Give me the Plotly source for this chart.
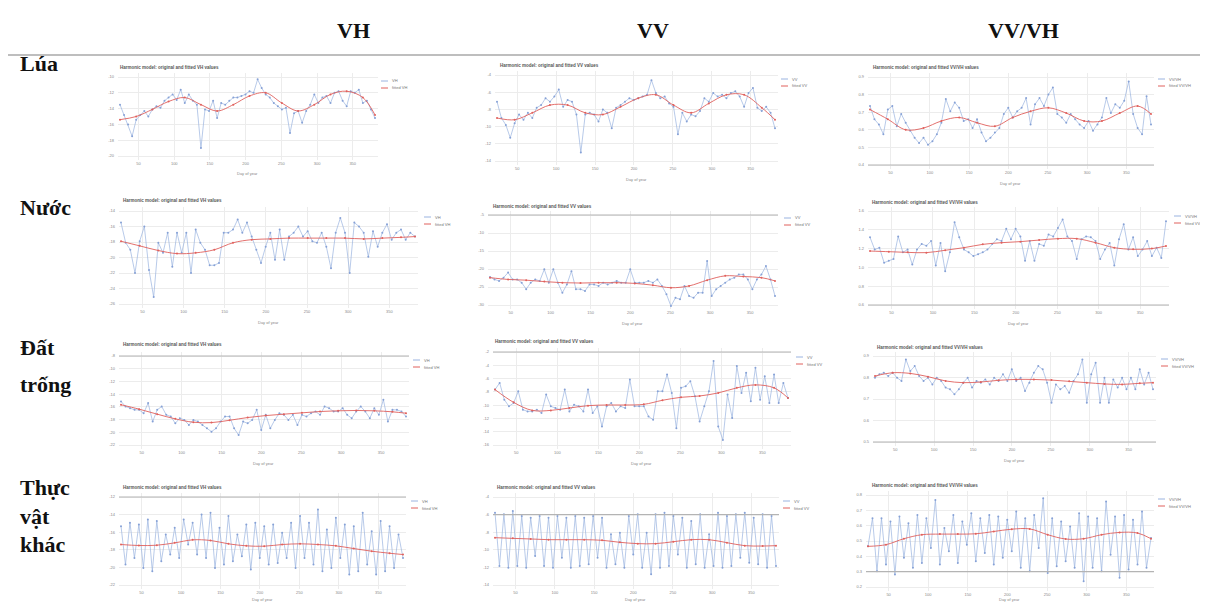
import plotly.graph_objects as go

W, H = 1208, 602

# acquisition days (time axis) and positions of the fitted-curve samples
days = [24 + 5.67 * i for i in range(64)]
fit_idx = list(range(0, 64, 4)) + [63]
fit_days = [days[i] for i in fit_idx]
x_ticks = [50, 100, 150, 200, 250, 300, 350]

col_headers = ["VH", "VV", "VV/VH"]
row_labels = [["Lúa"], ["Nước"], ["Đất", "trống"], ["Thực", "vật", "khác"]]

# ---------------- Lúa ----------------
lua_vh = [-13.5,-14.8,-16.0,-17.5,-15.4,-14.8,-14.3,-15.0,-14.1,-13.7,
          -13.9,-13.0,-12.6,-12.2,-12.9,-11.6,-13.3,-12.2,-13.0,-13.5,
          -19.0,-14.1,-14.3,-13.0,-15.2,-13.3,-13.5,-13.0,-12.6,-12.6,
          -12.4,-12.2,-11.8,-12.0,-10.3,-11.4,-12.2,-12.6,-13.3,-13.7,
          -14.1,-13.9,-17.1,-14.6,-14.3,-15.8,-14.3,-13.5,-12.2,-13.3,
          -12.6,-12.4,-13.3,-12.0,-11.8,-13.0,-13.7,-11.8,-12.0,-11.6,
          -13.3,-13.0,-14.1,-15.2]
lua_vh_fit = [-15.4,-15.0,-14.1,-13.1,-12.6,-13.5,-14.3,-13.5,-12.4,-12.0,-13.3,-14.3,-13.5,-12.2,-11.8,-12.6,-14.8]
lua_vh_ticks = [-10, -12, -14, -16, -18, -20]

lua_vv = [-7.1,-9.0,-9.8,-11.3,-9.6,-8.6,-9.2,-8.4,-9.0,-7.8,
          -7.5,-6.7,-7.1,-6.5,-5.7,-7.7,-6.9,-7.1,-8.6,-13.0,
          -8.6,-8.4,-8.6,-9.4,-8.0,-8.4,-10.2,-7.8,-7.5,-7.1,
          -6.7,-6.9,-6.7,-6.5,-6.3,-4.6,-6.1,-6.7,-6.5,-7.3,
          -7.7,-10.9,-8.4,-9.4,-8.6,-8.8,-8.2,-6.7,-7.1,-6.1,
          -6.5,-6.3,-6.7,-6.1,-5.9,-6.5,-7.7,-6.1,-5.5,-7.8,
          -8.2,-7.7,-8.4,-10.2]
lua_vv_fit = [-9.0,-9.2,-8.4,-7.5,-7.5,-8.4,-8.6,-7.7,-6.7,-6.3,-7.5,-8.4,-7.3,-6.3,-6.3,-7.8,-9.2]
lua_vv_ticks = [-4, -6, -8, -10, -12, -14]

lua_ratio = [0.735,0.66,0.63,0.575,0.715,0.735,0.62,0.69,0.64,0.595,
             0.555,0.525,0.555,0.515,0.535,0.575,0.64,0.775,0.705,0.755,
             0.725,0.65,0.66,0.61,0.66,0.585,0.535,0.555,0.585,0.61,
             0.69,0.725,0.67,0.705,0.725,0.78,0.63,0.745,0.78,0.735,
             0.80,0.84,0.69,0.67,0.64,0.69,0.66,0.63,0.61,0.65,
             0.595,0.63,0.67,0.78,0.695,0.745,0.725,0.765,0.875,0.69,
             0.61,0.575,0.79,0.63]
lua_ratio_fit = [0.715,0.66,0.60,0.61,0.65,0.67,0.64,0.62,0.67,0.705,0.725,0.695,0.65,0.65,0.695,0.735,0.69]
lua_ratio_ticks = [0.9, 0.8, 0.7, 0.6, 0.5, 0.4]

# ---------------- Nước ----------------
nuoc_vh = [-15.5,-18.1,-19.0,-22.0,-17.9,-16.0,-21.6,-25.1,-18.1,-19.4,
           -16.8,-21.2,-16.8,-19.4,-16.8,-22.0,-16.4,-18.1,-19.0,-21.0,
           -21.0,-20.7,-16.8,-16.8,-16.4,-15.1,-16.8,-15.5,-17.3,-19.0,
           -20.7,-18.6,-16.8,-20.3,-16.4,-20.3,-17.3,-16.8,-16.0,-17.3,
           -16.6,-17.9,-18.1,-16.8,-18.6,-21.4,-16.8,-14.9,-16.8,-22.0,
           -15.5,-16.0,-16.8,-19.9,-16.6,-18.6,-16.8,-15.7,-17.7,-16.8,
           -16.4,-17.7,-16.8,-17.3]
nuoc_vh_fit = [-17.9,-18.5,-19.1,-19.5,-19.4,-19.0,-18.1,-17.7,-17.6,-17.5,-17.5,-17.5,-17.5,-17.6,-17.5,-17.4,-17.3]
nuoc_vh_ticks = [-14, -16, -18, -20, -22, -24, -26]

nuoc_vv = [-22.2,-22.9,-23.3,-22.4,-21.0,-22.9,-22.9,-23.8,-25.6,-23.8,
           -22.9,-23.3,-20.1,-23.8,-20.1,-23.8,-26.6,-24.3,-20.6,-25.6,
           -25.6,-26.1,-24.3,-24.3,-24.7,-23.8,-24.3,-23.8,-23.3,-23.8,
           -23.8,-20.1,-23.8,-23.8,-23.8,-23.3,-23.8,-22.9,-24.7,-27.0,
           -30.3,-28.0,-28.4,-24.7,-27.5,-28.0,-26.6,-26.6,-17.8,-27.5,
           -25.6,-24.7,-23.8,-22.9,-22.4,-21.5,-21.5,-22.9,-25.6,-22.9,
           -21.5,-19.2,-22.9,-27.5]
nuoc_vv_fit = [-22.4,-22.9,-23.1,-23.5,-23.8,-23.9,-23.8,-23.8,-24.0,-24.5,-25.2,-24.7,-23.1,-21.9,-22.1,-22.4,-23.3]
nuoc_vv_ticks = [-5, -10, -15, -20, -25, -30]

nuoc_ratio = [1.32,1.19,1.21,1.05,1.07,1.09,1.33,1.16,1.19,1.03,
              1.19,1.25,1.23,1.28,1.02,1.26,0.96,1.16,1.48,1.32,
              1.19,1.16,1.12,1.14,1.16,1.19,1.25,1.30,1.28,1.41,
              1.30,1.41,1.33,1.07,1.28,1.07,1.25,1.23,1.35,1.33,
              1.42,1.51,1.33,1.28,1.09,1.30,1.33,1.32,1.28,1.09,
              1.19,1.26,1.02,1.30,1.46,1.19,1.32,1.12,1.19,1.28,
              1.12,1.21,1.10,1.49]
nuoc_ratio_fit = [1.174,1.167,1.16,1.157,1.182,1.21,1.245,1.263,1.274,1.291,1.306,1.306,1.263,1.21,1.192,1.2,1.228]
nuoc_ratio_ticks = [1.6, 1.4, 1.2, 1.0, 0.8, 0.6]

# ---------------- Đất trống ----------------
dat_vh = [-15.14,-15.94,-16.2,-16.47,-16.47,-17.0,-15.41,-18.32,-16.47,-15.94,
          -17.26,-17.52,-18.58,-17.79,-18.05,-18.85,-18.05,-18.32,-18.85,-19.38,
          -19.9,-19.38,-18.32,-17.52,-17.52,-19.38,-20.43,-18.32,-18.58,-18.05,
          -16.47,-19.64,-17.26,-19.38,-18.05,-17.0,-17.26,-18.05,-17.26,-18.85,
          -17.26,-17.52,-17.0,-16.73,-17.26,-15.94,-16.2,-16.73,-16.73,-16.2,
          -17.26,-17.79,-16.73,-15.94,-16.73,-17.79,-16.2,-17.26,-14.88,-18.32,
          -16.47,-16.47,-16.73,-17.52]
dat_vh_fit = [-15.67,-16.36,-17.15,-17.89,-18.42,-18.48,-18.11,-17.68,-17.37,-17.15,-16.94,-16.73,-16.62,-16.57,-16.62,-16.78,-17.0]
dat_vh_ticks = [-8, -10, -12, -14, -16, -18, -20, -22]

dat_vv = [-7.66,-6.65,-9.17,-10.18,-9.68,-7.91,-10.69,-10.94,-10.94,-10.69,
          -11.19,-8.41,-10.18,-10.43,-10.69,-7.66,-10.94,-9.93,-10.18,-10.94,
          -7.66,-11.19,-10.18,-13.21,-10.18,-9.68,-10.94,-10.18,-10.43,-6.14,
          -10.18,-10.18,-10.18,-11.7,-12.2,-7.91,-7.91,-5.38,-8.16,-13.46,
          -7.4,-7.15,-6.39,-8.67,-12.45,-10.18,-7.91,-3.36,-13.21,-15.23,
          -8.41,-11.95,-4.12,-8.16,-5.13,-9.42,-4.37,-9.17,-5.64,-9.68,
          -5.38,-9.68,-6.65,-8.92]
dat_vv_fit = [-7.66,-9.58,-10.79,-10.79,-10.43,-10.08,-9.98,-9.98,-9.88,-9.27,-8.82,-8.62,-8.16,-7.4,-6.95,-7.4,-8.92]
dat_vv_ticks = [-2, -4, -6, -8, -10, -12, -14, -16]

dat_ratio = [0.799,0.815,0.822,0.807,0.822,0.799,0.784,0.884,0.83,0.853,
             0.807,0.784,0.799,0.768,0.799,0.784,0.753,0.745,0.722,0.745,
             0.776,0.799,0.753,0.784,0.776,0.791,0.768,0.799,0.784,0.815,
             0.784,0.838,0.784,0.799,0.737,0.776,0.822,0.853,0.838,0.776,
             0.683,0.768,0.745,0.76,0.729,0.784,0.815,0.884,0.683,0.815,
             0.869,0.683,0.799,0.683,0.791,0.753,0.799,0.745,0.799,0.745,
             0.838,0.768,0.822,0.745]
dat_ratio_fit = [0.807,0.822,0.819,0.804,0.784,0.776,0.779,0.787,0.791,0.791,0.788,0.782,0.776,0.77,0.768,0.773,0.776]
dat_ratio_ticks = [0.9, 0.8, 0.7, 0.6, 0.5]

# ---------------- Thực vật khác ----------------
tv_vh = [-15.31,-19.68,-14.93,-18.92,-15.12,-20.06,-14.55,-20.44,-14.74,-19.3,
         -16.26,-18.54,-15.5,-18.92,-14.55,-17.4,-14.93,-18.54,-13.98,-18.92,
         -13.79,-20.06,-15.5,-19.68,-14.17,-19.3,-16.26,-18.73,-15.12,-20.25,
         -14.93,-18.92,-15.31,-19.68,-15.12,-19.49,-16.07,-18.92,-14.93,-20.06,
         -14.17,-18.92,-14.93,-19.68,-13.41,-20.44,-15.69,-20.06,-14.36,-18.92,
         -15.12,-20.82,-15.31,-20.44,-13.79,-19.68,-15.88,-20.82,-14.74,-20.44,
         -15.31,-20.06,-16.26,-18.92]
tv_vh_fit = [-17.4,-17.51,-17.48,-17.21,-16.87,-16.94,-17.32,-17.55,-17.59,-17.4,-17.32,-17.4,-17.55,-17.86,-18.16,-18.39,-18.54]
tv_vh_ticks = [-12, -14, -16, -18, -20, -22]

tv_vv = [-5.78,-11.84,-5.97,-12.03,-5.59,-11.84,-6.16,-12.03,-6.35,-10.7,
         -6.16,-11.84,-6.35,-12.03,-6.16,-10.89,-6.35,-12.03,-6.16,-11.84,
         -6.35,-11.65,-6.16,-10.89,-6.35,-12.03,-8.24,-11.65,-8.05,-12.03,
         -6.16,-10.52,-5.97,-12.03,-8.05,-12.79,-5.97,-12.03,-5.78,-11.84,
         -6.16,-10.52,-6.35,-12.03,-6.73,-11.65,-5.97,-12.03,-8.24,-11.84,
         -5.78,-12.03,-6.16,-11.84,-5.97,-10.89,-5.78,-11.46,-6.35,-11.65,
         -5.97,-12.03,-6.16,-11.84]
tv_vv_fit = [-8.62,-8.7,-8.77,-8.85,-8.85,-8.85,-8.92,-9.15,-9.3,-9.3,-9.08,-8.85,-8.85,-9.19,-9.53,-9.57,-9.53]
tv_vv_ticks = [-4, -6, -8, -10, -12, -14]

tv_ratio = [0.465,0.649,0.303,0.649,0.346,0.627,0.282,0.66,0.39,0.616,
            0.325,0.67,0.357,0.649,0.454,0.768,0.346,0.584,0.433,0.67,
            0.357,0.627,0.476,0.681,0.368,0.649,0.422,0.67,0.346,0.66,
            0.39,0.638,0.433,0.692,0.325,0.649,0.303,0.67,0.454,0.778,
            0.292,0.649,0.336,0.627,0.368,0.595,0.325,0.681,0.238,0.66,
            0.325,0.649,0.303,0.757,0.411,0.66,0.26,0.67,0.314,0.638,
            0.346,0.692,0.325,0.519]
tv_ratio_fit = [0.465,0.476,0.515,0.541,0.545,0.545,0.547,0.562,0.577,0.579,0.541,0.513,0.515,0.541,0.556,0.552,0.515]
tv_ratio_ticks = [0.8, 0.7, 0.6, 0.5, 0.4, 0.3, 0.2]

# panel configuration: data, band name, y ticks, pixel box (plot-left, data-start, data-end,
# plot-right, top-tick, bottom-tick), title & legend anchors, emphasised reference tick
panels = [
    dict(o=lua_vh, f=lua_vh_fit, band="VH", yt=lua_vh_ticks, box=(110, 112, 367, 370, 69, 148), t=(110, 59), lg=(373, 70), ref=None),
    dict(o=lua_vv, f=lua_vv_fit, band="VV", yt=lua_vv_ticks, box=(487, 489, 767, 770, 67, 153), t=(490, 57), lg=(773, 68), ref=None),
    dict(o=lua_ratio, f=lua_ratio_fit, band="VV/VH", yt=lua_ratio_ticks, box=(860, 862, 1143, 1146, 69, 157), t=(863, 59), lg=(1150, 68), ref=0.4),
    dict(o=nuoc_vh, f=nuoc_vh_fit, band="VH", yt=nuoc_vh_ticks, box=(111, 113, 407, 410, 203, 296), t=(113, 193), lg=(416, 206), ref=None),
    dict(o=nuoc_vv, f=nuoc_vv_fit, band="VV", yt=nuoc_vv_ticks, box=(480, 482, 767, 770, 207, 297), t=(483, 198), lg=(776, 207), ref=-5),
    dict(o=nuoc_ratio, f=nuoc_ratio_fit, band="VV/VH", yt=nuoc_ratio_ticks, box=(860, 862, 1158, 1161, 203, 297), t=(862, 194), lg=(1166, 205), ref=0.6),
    dict(o=dat_vh, f=dat_vh_fit, band="VH", yt=dat_vh_ticks, box=(111, 113, 398, 401, 348, 437), t=(113, 337), lg=(405, 349), ref=-8),
    dict(o=dat_vv, f=dat_vv_fit, band="VV", yt=dat_vv_ticks, box=(485, 487, 780, 783, 344, 437), t=(485, 333), lg=(788, 346), ref=-2),
    dict(o=dat_ratio, f=dat_ratio_fit, band="VV/VH", yt=dat_ratio_ticks, box=(865, 867, 1145, 1148, 348, 434), t=(867, 339), lg=(1153, 348), ref=0.5),
    dict(o=tv_vh, f=tv_vh_fit, band="VH", yt=tv_vh_ticks, box=(111, 113, 395, 398, 489, 577), t=(113, 479), lg=(403, 490), ref=-12),
    dict(o=tv_vv, f=tv_vv_fit, band="VV", yt=tv_vv_ticks, box=(485, 487, 768, 771, 489, 577), t=(487, 479), lg=(775, 490), ref=-6),
    dict(o=tv_ratio, f=tv_ratio_fit, band="VV/VH", yt=tv_ratio_ticks, box=(858, 860, 1143, 1146, 487, 579), t=(862, 477), lg=(1150, 488), ref=0.3),
]
row_label_y = [[56], [199], [339, 376], [479, 508, 536]]

BLUE = "#9ab3e0"
BLUE_M = "#86a1d6"
RED = "#e0605c"
SMALL = "Liberation Sans, Arial, sans-serif"
SERIF = "Liberation Serif, Times New Roman, serif"

fig = go.Figure()
layout = dict(width=W, height=H, margin=dict(l=0, r=0, t=0, b=0),
              paper_bgcolor="white", plot_bgcolor="white", showlegend=False)
annotations = []
shapes = []

def px(x):
    return x / W

def py(y):
    return 1 - y / H

for k, p in enumerate(panels, start=1):
    xn = "x" if k == 1 else f"x{k}"
    yn = "y" if k == 1 else f"y{k}"
    p0, d0, d1, p1, yt_px, yb_px = p["box"]
    # x scale
    dpp = (days[-1] - days[0]) / (d1 - d0)
    xr = [days[0] - (d0 - p0) * dpp, days[-1] + (p1 - d1) * dpp]
    # y scale
    ticks = p["yt"]
    pad = 4
    vpp = (ticks[0] - ticks[-1]) / (yb_px - yt_px)
    yr = [ticks[-1] - pad * vpp, ticks[0] + pad * vpp]
    is_ratio = p["band"] == "VV/VH"
    ttxt = [f"{v:.1f}" if is_ratio else f"{v:d}" for v in ticks]

    layout["xaxis" if k == 1 else f"xaxis{k}"] = dict(
        domain=[px(p0), px(p1)], range=xr, anchor=yn,
        tickvals=x_ticks, ticktext=[str(v) for v in x_ticks],
        tickfont=dict(size=4, color="#888", family=SMALL), ticklen=0, ticklabelstandoff=0,
        showgrid=True, gridcolor="#ececec", gridwidth=1, zeroline=False, showline=False, ticks="")
    layout["yaxis" if k == 1 else f"yaxis{k}"] = dict(
        domain=[py(yb_px + pad), py(yt_px - pad)], range=yr, anchor=xn,
        tickvals=ticks, ticktext=ttxt,
        tickfont=dict(size=4, color="#888", family=SMALL), ticklen=0, ticklabelstandoff=3,
        showgrid=True, gridcolor="#ececec", gridwidth=1, zeroline=False, showline=False, ticks="")

    fig.add_trace(go.Scatter(x=days, y=p["o"], mode="lines+markers", xaxis=xn, yaxis=yn,
                             line=dict(color=BLUE, width=0.7), marker=dict(size=2, color=BLUE_M),
                             name=p["band"]))
    fig.add_trace(go.Scatter(x=fit_days, y=p["f"], mode="lines+markers", xaxis=xn, yaxis=yn,
                             line=dict(color=RED, width=0.9, shape="spline", smoothing=1.0),
                             marker=dict(size=2, color=RED), name="fitted " + p["band"]))

    if p["ref"] is not None:
        shapes.append(dict(type="line", xref=f"{xn} domain", yref=yn, x0=0, x1=1,
                           y0=p["ref"], y1=p["ref"], line=dict(color="#b4b4b4", width=1.2)))

    tx, ty = p["t"]
    annotations.append(dict(x=px(tx), y=py(ty), xref="paper", yref="paper", xanchor="left",
                            yanchor="middle", showarrow=False,
                            text=f"<b>Harmonic model: original and fitted {p['band']} values</b>",
                            font=dict(size=4.5, color="#555", family=SMALL)))
    lab_y = min(yb_px + 18, 591)
    annotations.append(dict(x=px((d0 + d1) / 2), y=py(lab_y), xref="paper", yref="paper",
                            xanchor="center", yanchor="middle", showarrow=False, text="Day of year",
                            font=dict(size=4, color="#888", family=SMALL), borderpad=0))
    # legend
    lx, ly = p["lg"]
    for j, (lbl, col) in enumerate([(p["band"], BLUE), ("fitted " + p["band"], RED)]):
        yy = ly + 3 + j * 7
        shapes.append(dict(type="line", xref="paper", yref="paper", x0=px(lx), x1=px(lx + 7),
                           y0=py(yy), y1=py(yy), line=dict(color=col, width=1)))
        annotations.append(dict(x=px(lx + 9), y=py(yy), xref="paper", yref="paper", xanchor="left",
                                yanchor="middle", showarrow=False, text=lbl,
                                font=dict(size=4, color="#777", family=SMALL)))

# column headers
for txt, cx in zip(col_headers, [345, 645, 1015]):
    annotations.append(dict(x=px(cx), y=py(22), xref="paper", yref="paper", xanchor="center",
                            yanchor="middle", showarrow=False, text=f"<b>{txt}</b>",
                            font=dict(size=22, color="#111", family=SERIF)))
# row labels (one annotation per line)
for lines, ys in zip(row_labels, row_label_y):
    for txt, cy in zip(lines, ys):
        annotations.append(dict(x=px(10), y=py(cy), xref="paper", yref="paper", xanchor="left",
                                yanchor="middle", align="left", showarrow=False, text=f"<b>{txt}</b>",
                                font=dict(size=22, color="#111", family=SERIF)))

# separator under the headers
shapes.append(dict(type="line", xref="paper", yref="paper", x0=0, x1=1, y0=py(47), y1=py(47),
                   line=dict(color="#a8a8a8", width=1.5)))

layout["annotations"] = annotations
layout["shapes"] = shapes
fig.update_layout(**layout)
fig.write_html("out.html")
